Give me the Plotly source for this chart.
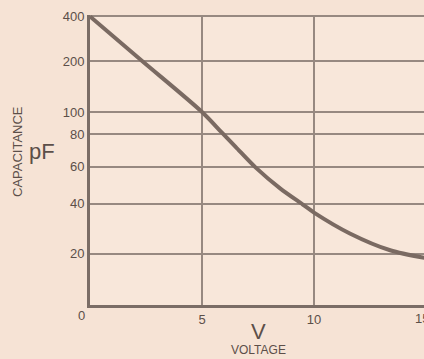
import numpy as np
import plotly.graph_objects as go

# Data
voltage = [0, 2.34, 5, 5.9, 6.5, 7.4, 8.5, 9.5, 10, 11.6, 13.4, 15]
capacitance_pf = [400, 200, 100, 81.3, 72.3, 59.5, 48.1, 39.6, 36.4, 28.1, 21.4, 18.3]

# The printed graph paper uses a non-standard capacitance scale:
# graduation value -> distance along the axis (arbitrary scale units)
y_graduations = [0, 20, 40, 60, 80, 100, 200, 400]
y_scale_units = [0, 51.5, 102, 139, 171.5, 194, 245, 290]
y_tick_text = ["", "20", "40", "60", "80", "100", "200", "400"]

x_ticks = [5, 10]
x_tick_text = ["5", "10"]


def cap_scale(v):
    return np.interp(v, y_graduations, y_scale_units)


curve_y = cap_scale(np.array(capacitance_pf))

ink = "#5c4f49"
grid = "#978981"
axis_c = "#7b6d66"
bg = "#f6e3d5"

W, H = 424, 359
ML, MR, MT, MB = 90, 0, 15, 54
pw, ph = W - ML - MR, H - MT - MB

fig = go.Figure()
fig.add_trace(go.Scatter(
    x=voltage, y=curve_y, mode="lines",
    line=dict(color="#7a6a62", width=4, shape="spline", smoothing=0.8),
    hoverinfo="skip", showlegend=False,
))

fig.update_layout(
    width=W, height=H,
    margin=dict(l=ML, r=MR, t=MT, b=MB),
    paper_bgcolor=bg, plot_bgcolor="#f8e7da",
    font=dict(family="Liberation Sans, Arial, sans-serif", color=ink, size=13),
    showlegend=False,
)
fig.update_xaxes(
    range=[0, 14.91], tickvals=x_ticks, ticktext=x_tick_text,
    showgrid=True, gridcolor=grid, gridwidth=1.5,
    showline=True, linecolor=axis_c, linewidth=3,
    zeroline=False, ticks="", tickfont=dict(size=13, color=ink),
)
fig.update_yaxes(
    range=[0, 291.5], tickvals=cap_scale(np.array(y_graduations)).tolist(),
    ticktext=y_tick_text,
    showgrid=True, gridcolor=grid, gridwidth=1.5,
    showline=True, linecolor=axis_c, linewidth=3,
    zeroline=False, ticks="", tickfont=dict(size=13, color=ink),
)


def px(x, y):
    return (x - ML) / pw, (H - MB - y) / ph


annotations = []
for text, x, y, size, angle in [
    ("0", 81, 315, 13, 0),
    ("15", 422, 318, 13, 0),
    ("V", 258, 331, 22, 0),
    ("VOLTAGE", 258, 350, 12, 0),
    ("pF", 42, 151, 22, 0),
    ("CAPACITANCE", 18, 152, 13, -90),
]:
    ax, ay = px(x, y)
    annotations.append(dict(
        text=text, xref="paper", yref="paper", x=ax, y=ay,
        showarrow=False, textangle=angle,
        font=dict(size=size, color=ink),
        xanchor="center", yanchor="middle",
    ))
fig.update_layout(annotations=annotations)

fig.write_html(
    "out.html",
    config={"displayModeBar": False},
    post_script="document.body.style.margin='0px';"
                "document.documentElement.style.overflow='hidden';",
)
